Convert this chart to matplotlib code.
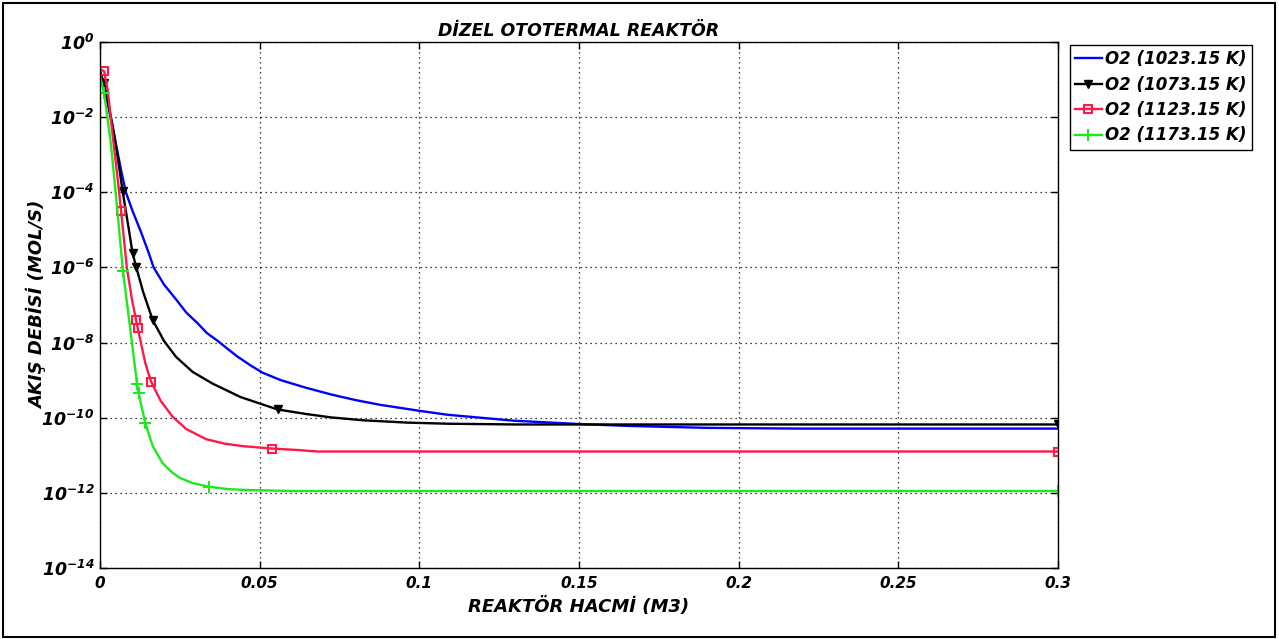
import matplotlib
matplotlib.use('Agg')
import matplotlib.pyplot as plt
from matplotlib.patches import Rectangle
from matplotlib.ticker import NullLocator

# reactor volume (m3) and O2 molar flow (mol/s)
x1023 = [0.0, 0.0012, 0.0024, 0.0045, 0.0066, 0.0081, 0.0102, 0.0128, 0.0152, 0.0168,
         0.020, 0.024, 0.027, 0.0306, 0.0335, 0.0368, 0.040, 0.043, 0.047, 0.0509,
         0.0566, 0.0644, 0.0723, 0.080, 0.0879, 0.1004, 0.1088, 0.1296, 0.1505,
         0.166, 0.19, 0.22, 0.3]
o2_1023 = [1.78e-1, 6.31e-2, 2.34e-2, 3.16e-3, 3.89e-4, 1.0e-4, 3.16e-5, 8.91e-6,
           2.51e-6, 1.0e-6, 3.55e-7, 1.35e-7, 6.31e-8, 3.24e-8, 1.78e-8, 1.12e-8,
           6.76e-9, 4.27e-9, 2.51e-9, 1.58e-9, 1.0e-9, 6.31e-10, 4.17e-10, 2.95e-10,
           2.19e-10, 1.51e-10, 1.20e-10, 8.32e-11, 6.76e-11, 6.03e-11, 5.37e-11,
           5.13e-11, 5.13e-11]

x1073 = [0.0, 0.0013, 0.0025, 0.004, 0.0055, 0.0071, 0.0089, 0.0102, 0.0113, 0.0135,
         0.0165, 0.020, 0.0238, 0.029, 0.0352, 0.044, 0.0556, 0.0644, 0.0723, 0.0826,
         0.0962, 0.1088, 0.13, 0.3]
o2_1073 = [1.58e-1, 7.94e-2, 2.51e-2, 5.62e-3, 8.91e-4, 1.05e-4, 1.20e-5, 2.40e-6,
           1.05e-6, 2.24e-7, 3.98e-8, 1.12e-8, 4.17e-9, 1.66e-9, 8.13e-10, 3.55e-10,
           1.66e-10, 1.26e-10, 1.02e-10, 8.51e-11, 7.41e-11, 6.92e-11, 6.61e-11,
           6.61e-11]

x1123 = [0.0, 0.0013, 0.0024, 0.004, 0.006, 0.0066, 0.0075, 0.0084, 0.010, 0.0113,
         0.0118, 0.0128, 0.0142, 0.016, 0.019, 0.0227, 0.027, 0.0332, 0.039, 0.045,
         0.054, 0.062, 0.068, 0.3]
o2_1123 = [1.91e-1, 1.66e-1, 5.25e-2, 3.16e-3, 1.0e-4, 3.16e-5, 5.62e-6, 1.0e-6,
           1.41e-7, 3.98e-8, 2.45e-8, 1.0e-8, 2.82e-9, 9.12e-10, 2.82e-10, 1.07e-10,
           5.01e-11, 2.69e-11, 2.04e-11, 1.74e-11, 1.51e-11, 1.38e-11, 1.26e-11,
           1.26e-11]

x1173 = [0.0, 0.0013, 0.0034, 0.005, 0.0072, 0.010, 0.0116, 0.0121, 0.0142, 0.0165,
         0.0196, 0.0225, 0.025, 0.029, 0.0342, 0.040, 0.045, 0.06, 0.3]
o2_1173 = [1.26e-1, 4.27e-2, 2.0e-3, 7.94e-5, 7.94e-7, 1.0e-8, 7.94e-10, 4.47e-10,
           7.08e-11, 1.78e-11, 6.17e-12, 3.55e-12, 2.51e-12, 1.82e-12, 1.45e-12,
           1.26e-12, 1.20e-12, 1.12e-12, 1.12e-12]

labels = ['O2 (1023.15 K)', 'O2 (1073.15 K)', 'O2 (1123.15 K)', 'O2 (1173.15 K)']
xticks = [0, 0.05, 0.1, 0.15, 0.2, 0.25, 0.3]
xticklabels = ['0', '0.05', '0.1', '0.15', '0.2', '0.25', '0.3']
yexps = [0, -2, -4, -6, -8, -10, -12, -14]

plt.rcParams['font.family'] = 'DejaVu Sans'
plt.rcParams['font.weight'] = 'bold'
plt.rcParams['font.style'] = 'italic'
plt.rcParams['axes.labelweight'] = 'bold'
plt.rcParams['mathtext.default'] = 'regular'

fig = plt.figure(figsize=(12.79, 6.39), dpi=100)
ax = fig.add_axes([100 / 1279, 1 - 568 / 639, 958 / 1279, 526 / 639])

ax.plot(x1023, o2_1023, '-', color='#0000ff', lw=1.7, label=labels[0])
ax.plot(x1073, o2_1073, '-', color='black', lw=1.7, marker='v', ms=6,
        markevery=[1, 5, 7, 8, 10, 16, 23], label=labels[1])
ax.plot(x1123, o2_1123, '-', color='#ff1848', lw=1.7, marker='s', ms=6,
        mfc='none', mew=1.5, markevery=[1, 5, 9, 10, 13, 20, 23], label=labels[2])
ax.plot(x1173, o2_1173, '-', color='#1ee81e', lw=1.7, marker='+', ms=8,
        mew=1.5, markevery=[1, 4, 6, 7, 8, 14, 18], label=labels[3])

ax.set_yscale('log')
ax.set_xlim(0, 0.3)
ax.set_ylim(1e-14, 1e0)
ax.set_xticks(xticks, xticklabels)
ax.set_yticks([10.0 ** e for e in yexps], [r'$10^{%d}$' % e for e in yexps])
ax.yaxis.set_minor_locator(NullLocator())
ax.tick_params(direction='in', top=True, right=True, length=5, width=1,
               labelsize=11, pad=6)
ax.tick_params(axis='y', labelsize=12.5, pad=4)
for s in ax.spines.values():
    s.set_linewidth(1.0)
    s.set_color('black')
ax.grid(True, color='black', linestyle=(0, (1, 3)), lw=0.9)

ax.set_title('DİZEL OTOTERMAL REAKTÖR', fontsize=12.5, fontweight='bold',
             fontstyle='italic', pad=4)
ax.set_xlabel('REAKTÖR HACMİ (M3)', fontsize=13, labelpad=4)
ax.set_ylabel('AKIŞ DEBİSİ (MOL/S)', fontsize=13, labelpad=-4)

leg = ax.legend(loc='upper left', bbox_to_anchor=(1070 / 1279, 1 - 45 / 639),
                bbox_transform=fig.transFigure, borderaxespad=0, fontsize=12,
                handlelength=1.6, handletextpad=0.2, labelspacing=0.45,
                borderpad=0.3, fancybox=False, framealpha=1)
leg.get_frame().set_edgecolor('black')
leg.get_frame().set_linewidth(1.0)

fig.patches.append(Rectangle((0.002, 0.003), 0.995, 0.993, transform=fig.transFigure,
                             fill=False, edgecolor='black', lw=1.5))

fig.savefig('out.png', dpi=100)
